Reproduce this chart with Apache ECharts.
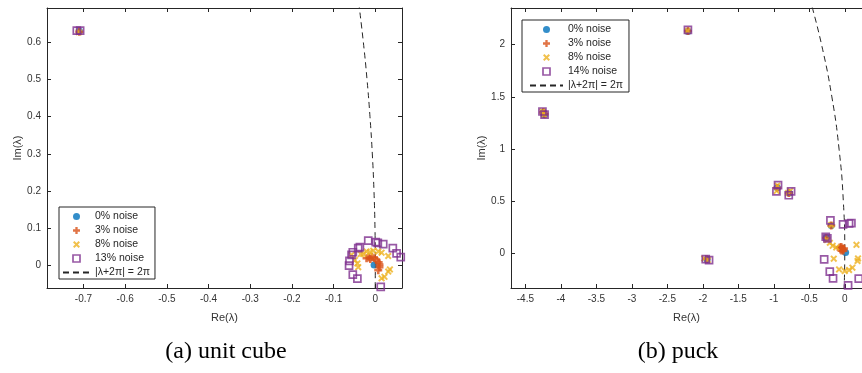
<!DOCTYPE html>
<html>
<head>
<meta charset="utf-8">
<script src="https://cdn.jsdelivr.net/npm/echarts@6/dist/echarts.min.js"></script>
<style>
html,body{margin:0;padding:0;background:#fff;}
#c{width:862px;height:373px;}
</style>
</head>
<body>
<div id="c"></div>
<script>
// ---------- data ----------
// (a) unit cube
const xTicksA = [-0.7, -0.6, -0.5, -0.4, -0.3, -0.2, -0.1, 0];
const yTicksA = [0, 0.1, 0.2, 0.3, 0.4, 0.5, 0.6];
const blueA = [[-0.71, 0.63], [-0.003, 0.002]];
const orangeA = [[-0.71, 0.628], [-0.021, 0.020], [-0.015, 0.022], [-0.008, 0.023], [-0.002, 0.020],
  [0.003, 0.015], [0.008, 0.009], [0.010, 0.003], [0.010, -0.004], [0.007, -0.012], [-0.012, 0.018]];
const yellowA = [[-0.711, 0.627], [-0.049, 0.015], [-0.043, 0.006], [-0.041, -0.004], [-0.035, 0.031],
  [-0.029, 0.031], [-0.021, 0.038], [-0.013, 0.036], [-0.005, 0.040], [0.007, 0.038], [0.015, 0.035],
  [0.031, 0.026], [0.035, -0.010], [0.031, -0.016], [0.022, -0.030], [0.015, -0.034], [-0.057, 0.029]];
const purpleA = [[-0.716, 0.631], [-0.708, 0.631], [-0.062, 0.013], [-0.063, 0.0], [-0.057, 0.029],
  [-0.054, 0.036], [-0.041, 0.047], [-0.037, 0.050], [-0.017, 0.067], [0.001, 0.063], [0.006, 0.061],
  [0.019, 0.058], [0.042, 0.047], [0.051, 0.033], [0.061, 0.023], [-0.054, -0.024], [-0.043, -0.035],
  [0.013, -0.057]];
// dashed circle |λ+2π| = 2π  (points [Re, Im])
const circleA = [[-0.0003, -0.06], [0, 0], [-0.0008, 0.1], [-0.0032, 0.2], [-0.0072, 0.3],
  [-0.0128, 0.4], [-0.0199, 0.5], [-0.0287, 0.6], [-0.0391, 0.7]];

// (b) puck
const xTicksB = [-4.5, -4, -3.5, -3, -2.5, -2, -1.5, -1, -0.5, 0];
const yTicksB = [0, 0.5, 1, 1.5, 2];
const blueB = [[-2.21, 2.125], [-4.25, 1.35], [-4.23, 1.33], [-0.95, 0.63], [-0.78, 0.58],
  [-1.94, -0.055], [0.012, 0.012], [-0.19, 0.27], [-0.26, 0.155]];
const orangeB = [[-2.21, 2.13], [-4.25, 1.355], [-4.23, 1.335], [-0.95, 0.63], [-0.79, 0.58],
  [-1.95, -0.05], [-0.19, 0.27], [-0.26, 0.15], [-0.07, 0.06], [-0.05, 0.065], [-0.04, 0.05],
  [-0.06, 0.04], [-0.03, 0.045], [-0.02, 0.03], [-0.045, 0.03], [-0.01, 0.05]];
const yellowB = [[-2.215, 2.13], [-4.26, 1.36], [-4.24, 1.33], [-0.96, 0.6], [-0.95, 0.65], [-0.8, 0.58],
  [-0.77, 0.6], [-1.98, -0.045], [-1.93, -0.06], [-0.19, 0.275], [-0.21, 0.105], [-0.17, 0.075],
  [-0.12, 0.06], [-0.155, -0.048], [-0.08, -0.15], [0.0, -0.166], [0.061, -0.156], [0.108, -0.134],
  [0.165, 0.085], [0.187, -0.045], [0.18, -0.07], [-0.25, 0.13]];
const purpleB = [[-2.21, 2.14], [-4.26, 1.36], [-4.23, 1.33], [-0.963, 0.597], [-0.94, 0.655],
  [-0.789, 0.559], [-0.756, 0.597], [-1.959, -0.051], [-1.912, -0.061], [-0.202, 0.318], [-0.024, 0.28],
  [0.061, 0.289], [0.094, 0.292], [-0.268, 0.162], [-0.245, 0.146], [-0.29, -0.054], [-0.211, -0.172],
  [-0.165, -0.236], [0.047, -0.302], [0.197, -0.239], [0.25, 0.05]];
const circleB = [[-0.0098, -0.35], [0, 0], [-0.0199, 0.5], [-0.0801, 1.0], [-0.1817, 1.5],
  [-0.3268, 2.0], [-0.4764, 2.4]];

const namesA = ['0% noise', '3% noise', '8% noise', '13% noise', '|λ+2π| = 2π'];
const namesB = ['0% noise', '3% noise', '8% noise', '14% noise', '|λ+2π| = 2π'];

// ---------- styles ----------
const C_BLUE = '#0072BD', C_ORANGE = '#D95319', C_YELLOW = '#EDB120', C_PURPLE = '#7E2F8E';
const AX = '#262626';
const PLUS = 'path://M3,0H6V3H9V6H6V9H3V6H0V3H3Z';
const CROSS = 'path://M0,2L2,0L5,3L8,0L10,2L7,5L10,8L8,10L5,7L2,10L0,8L3,5Z';
const SQUARE = 'path://M0,0H10V10H0Z';

function axes(gi, min, max, ticks, isX, name, nameGap, hideSec) {
  const base = {
    gridIndex: gi, type: 'value', min: min, max: max,
    splitLine: {show: false},
    axisLine: {show: true, onZero: false, lineStyle: {color: AX, width: 1}},
    axisTick: {show: true, inside: true, length: 4, customValues: ticks, lineStyle: {color: AX}},
    axisLabel: {show: true, customValues: ticks, fontSize: 10, color: '#333', margin: 6,
      fontFamily: 'Liberation Sans'}
  };
  const main = Object.assign({}, base, {
    position: isX ? 'bottom' : 'left',
    name: name, nameLocation: 'middle', nameGap: nameGap,
    nameTextStyle: {fontSize: 11, color: '#333', fontFamily: 'Liberation Sans'}
  });
  if (!isX) main.nameRotate = 90;
  const sec = Object.assign({}, base, {
    position: isX ? 'top' : 'right',
    axisLabel: {show: false}
  });
  if (hideSec) {
    sec.axisLine = {show: false};
    sec.axisTick = {show: false};
  }
  return [main, sec];
}

const xA = axes(0, -0.7875, 0.064, xTicksA, true, 'Re(λ)', 24, false);
const yA = axes(0, -0.06, 0.692, yTicksA, false, 'Im(λ)', 24, false);
const xB = axes(1, -4.703, 0.243, xTicksB, true, 'Re(λ)', 24, false);
const yB = axes(1, -0.328, 2.35, yTicksB, false, 'Im(λ)', 24, true);

function scatterSet(xi, yi, blue, orange, yellow, purple, circle, pname) {
  return [
    {type: 'scatter', name: '0% noise', xAxisIndex: xi, yAxisIndex: yi, data: blue,
      symbol: 'circle', symbolSize: 7, itemStyle: {color: C_BLUE}, z: 2},
    {type: 'scatter', name: '3% noise', xAxisIndex: xi, yAxisIndex: yi, data: orange,
      symbol: PLUS, symbolSize: 8, itemStyle: {color: C_ORANGE}, z: 3},
    {type: 'scatter', name: '8% noise', xAxisIndex: xi, yAxisIndex: yi, data: yellow,
      symbol: CROSS, symbolSize: 7, itemStyle: {color: C_YELLOW}, z: 4},
    {type: 'scatter', name: pname, xAxisIndex: xi, yAxisIndex: yi, data: purple,
      symbol: SQUARE, symbolSize: 7,
      itemStyle: {color: 'rgba(255,255,255,0)', borderColor: C_PURPLE, borderWidth: 1.7}, z: 5},
    {type: 'line', name: '|λ+2π| = 2π', xAxisIndex: xi, yAxisIndex: yi, data: circle,
      smooth: true, symbol: 'none', clip: true,
      lineStyle: {color: AX, width: 1, type: [6, 4]}, itemStyle: {color: AX}, z: 1}
  ];
}

function legendData(names) {
  return [
    {name: names[0], icon: 'circle'},
    {name: names[1], icon: PLUS},
    {name: names[2], icon: CROSS},
    {name: names[3], icon: SQUARE,
      itemStyle: {color: 'rgba(255,255,255,0)', borderColor: C_PURPLE, borderWidth: 1.7}},
    {name: names[4], itemStyle: {color: 'rgba(0,0,0,0)', borderWidth: 0, opacity: 0}}
  ];
}

const legendBase = {
  orient: 'vertical', borderColor: AX, borderWidth: 1, backgroundColor: '#fff',
  itemHeight: 7, itemGap: 3, selectedMode: false, symbolKeepAspect: true,
  textStyle: {fontSize: 10.5, color: '#262626', fontFamily: 'Liberation Sans', lineHeight: 11}
};

const option = {
  animation: false,
  grid: [
    {left: 47, top: 8, width: 355, height: 280, containLabel: false},
    {left: 511, top: 8, width: 351, height: 280, containLabel: false}
  ],
  xAxis: [xA[0], xA[1], xB[0], xB[1]],
  yAxis: [yA[0], yA[1], yB[0], yB[1]],
  legend: [
    Object.assign({}, legendBase, {data: legendData(namesA), left: 59, top: 207, itemWidth: 27,
      padding: [4, 5, 1, 3]}),
    Object.assign({}, legendBase, {data: legendData(namesB), left: 522, top: 20, itemWidth: 33,
      padding: [4, 6, 1, 7]})
  ],
  series: [].concat(
    scatterSet(0, 0, blueA, orangeA, yellowA, purpleA, circleA, '13% noise'),
    scatterSet(2, 2, blueB, orangeB, yellowB, purpleB, circleB, '14% noise')
  ),
  graphic: [
    {type: 'text', x: 226, y: 352, style: {text: '(a) unit cube', font: '24px "Liberation Serif"',
      fill: '#000', align: 'center', verticalAlign: 'middle'}},
    {type: 'text', x: 678, y: 352, style: {text: '(b) puck', font: '24px "Liberation Serif"',
      fill: '#000', align: 'center', verticalAlign: 'middle'}}
  ]
};

const chart = echarts.init(document.getElementById('c'), null, {renderer: 'canvas'});
chart.setOption(option);
</script>
</body>
</html>
